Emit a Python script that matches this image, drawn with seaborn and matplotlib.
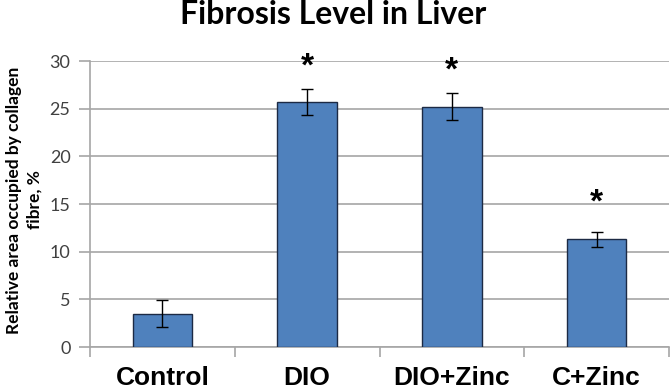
import numpy as np
import pandas as pd
import matplotlib
matplotlib.use('Agg')
import matplotlib.pyplot as plt
import seaborn as sns

groups = ['Control', 'DIO', 'DIO+Zinc', 'C+Zinc']
fibrosis = [3.5, 25.7, 25.2, 11.3]
err = [1.4, 1.4, 1.4, 0.8]
star_y = [None, 29.4, 28.9, 15.1]
ylabel_lines = ['Relative area occupied by collagen', 'fibre, %']

df = pd.DataFrame({'group': groups, 'fibrosis': fibrosis})

sns.set_style('white')
plt.rcParams['font.family'] = ['Lato', 'DejaVu Sans']

fig = plt.figure(figsize=(6.71, 3.9), dpi=100)
ax = fig.add_axes([90 / 671, 43 / 390, 579 / 671, 286 / 390])

sns.barplot(data=df, x='group', y='fibrosis', color='#4F81BD', saturation=1,
            width=0.41, edgecolor='#1c2a44', linewidth=1.0, ax=ax, zorder=3)
ax.errorbar(range(len(groups)), fibrosis, yerr=err, fmt='none', ecolor='black',
            elinewidth=1.0, capsize=4, capthick=1.0, zorder=4)

for i, sy in enumerate(star_y):
    if sy is not None:
        ax.text(i, sy, '*', ha='center', va='center', fontsize=24, fontweight='bold',
                family='Liberation Sans', color='black')

ax.set_ylim(0, 30)
ax.set_xlim(-0.5, 3.5)
ax.set_yticks(range(0, 31, 5))
ax.yaxis.grid(True, color='#a6a6a6', linewidth=1.2, zorder=0)
ax.set_axisbelow(True)
for s in ['top', 'right']:
    ax.spines[s].set_visible(False)
for s in ['left', 'bottom']:
    ax.spines[s].set_color('#a6a6a6')
    ax.spines[s].set_linewidth(1.2)

ax.tick_params(axis='y', which='major', direction='out', length=8, width=1.2,
               color='#a6a6a6', labelsize=13, labelcolor='#404040', pad=6, left=True)
ax.tick_params(axis='x', which='major', length=0, pad=14)
ax.set_xticks(np.arange(-0.5, 4, 1.0), minor=True)
ax.tick_params(axis='x', which='minor', direction='out', length=7, width=1.2,
               color='#a6a6a6', bottom=True)
for lab in ax.get_xticklabels():
    lab.set_fontfamily('Liberation Sans')
    lab.set_fontweight('bold')
    lab.set_fontsize(19)
    lab.set_color('black')

ax.set_xlabel('')
ax.set_ylabel('')
# two-line rotated label, each line centred on its own
for xpix, line in zip([14, 35], ylabel_lines):
    fig.text(xpix / 671, 1 - 200 / 390, line, rotation=90, ha='center', va='center',
             fontsize=12.5, fontweight='bold', color='black')

fig.text(333 / 671, 1 - 15 / 390, 'Fibrosis Level in Liver', ha='center', va='center',
         fontsize=23, fontweight='bold', color='black')

fig.savefig('out.png', dpi=100)
